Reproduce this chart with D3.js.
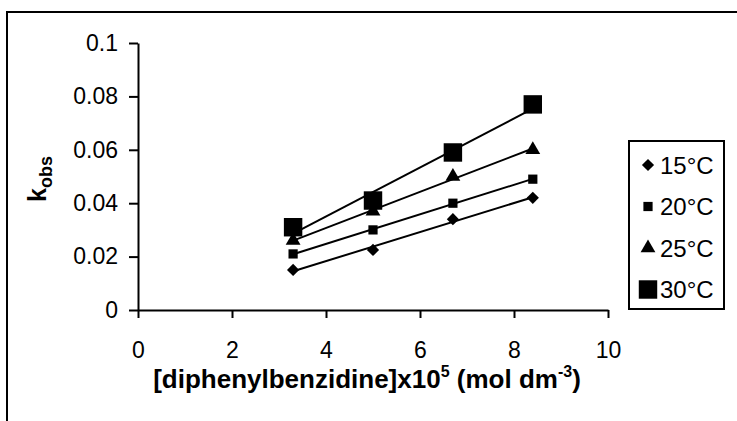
<!DOCTYPE html>
<html>
<head>
<meta charset="utf-8">
<script src="https://cdn.jsdelivr.net/npm/d3@7"></script>
<style>
  body { margin: 0; background: #fff; }
  text { font-family: "Liberation Sans", Arial, sans-serif; fill: #000; }
</style>
</head>
<body>
<svg width="737" height="421"></svg>
<script>
// data
var conc = [3.3, 5.0, 6.7, 8.4];
var temps = ["15°C", "20°C", "25°C", "30°C"];
var k15 = [0.015, 0.0225, 0.034, 0.042];
var k20 = [0.021, 0.030, 0.040, 0.049];
var k25 = [0.026, 0.037, 0.050, 0.060];
var k30 = [0.031, 0.041, 0.059, 0.077];
var xTicks = [0, 2, 4, 6, 8, 10];
var yTicks = [0, 0.02, 0.04, 0.06, 0.08, 0.1];

var series = [k15, k20, k25, k30].map(function (v, i) {
  return { name: temps[i], values: v };
});

var svg = d3.select("svg"),
    margin = {left: 138, right: 129, top: 43, bottom: 111},
    width = 737 - margin.left - margin.right,
    height = 421 - margin.top - margin.bottom;

// outer frame (cut at right and bottom)
svg.append("path")
    .attr("d", "M7,430V12H745")
    .attr("fill", "none")
    .attr("stroke", "#000")
    .attr("stroke-width", 2);

var g = svg.append("g").attr("transform", "translate(" + margin.left + "," + margin.top + ")");

var x = d3.scaleLinear().domain([0, 10]).range([0, width]),
    y = d3.scaleLinear().domain([0, 0.1]).range([height, 0]);

// symbols per series
var shapes = [
  {type: d3.symbolDiamond2, size: 95},
  {type: d3.symbolSquare, size: 85},
  {type: d3.symbolTriangle, size: 95},
  {type: d3.symbolSquare, size: 340}
];

function fit(xs, ys) {
  var mx = d3.mean(xs), my = d3.mean(ys);
  var sxy = d3.sum(xs, function (d, i) { return (d - mx) * (ys[i] - my); });
  var sxx = d3.sum(xs, function (d) { return (d - mx) * (d - mx); });
  var b = sxy / sxx;
  return function (t) { return my + b * (t - mx); };
}

// axes
var xAxis = g.append("g")
    .attr("transform", "translate(0," + height + ")")
    .call(d3.axisBottom(x).tickValues(xTicks).tickSize(8).tickSizeOuter(0).tickPadding(24));
var yAxis = g.append("g")
    .call(d3.axisLeft(y).tickValues(yTicks).tickSize(9).tickSizeOuter(0).tickPadding(11)
      .tickFormat(function (d) { return d === 0 ? "0" : d3.format("~g")(+d.toFixed(2)); }));

[xAxis, yAxis].forEach(function (a) {
  a.select(".domain").attr("stroke", "#000").attr("stroke-width", 2);
  a.selectAll(".tick line").attr("stroke", "#000").attr("stroke-width", 2);
  a.selectAll(".tick text").style("font-size", "23px").attr("font-family", null);
});

// trend lines
var lineGen = d3.line().x(function (d) { return x(d[0]); }).y(function (d) { return y(d[1]); });
series.forEach(function (s) {
  var f = fit(conc, s.values);
  var x0 = conc[0], x1 = conc[conc.length - 1];
  g.append("path")
      .attr("d", lineGen([[x0, f(x0)], [x1, f(x1)]]))
      .attr("fill", "none")
      .attr("stroke", "#000")
      .attr("stroke-width", 2);
});

// markers
series.forEach(function (s, i) {
  g.selectAll(".m" + i)
    .data(s.values)
    .enter().append("path")
      .attr("transform", function (d, j) { return "translate(" + x(conc[j]) + "," + y(d) + ")"; })
      .attr("d", d3.symbol().type(shapes[i].type).size(shapes[i].size))
      .attr("fill", "#000");
});

// legend
var leg = svg.append("g").attr("transform", "translate(629,141)");
leg.append("rect")
    .attr("width", 95).attr("height", 168)
    .attr("fill", "#fff").attr("stroke", "#000").attr("stroke-width", 2);
var item = leg.selectAll(".item")
    .data(series)
    .enter().append("g")
      .attr("transform", function (d, i) { return "translate(0," + (24 + i * 41.5) + ")"; });
item.append("path")
    .attr("transform", "translate(19,0)")
    .attr("d", function (d, i) { return d3.symbol().type(shapes[i].type).size(shapes[i].size)(); })
    .attr("fill", "#000");
item.append("text")
    .attr("x", 31)
    .attr("dy", "0.36em")
    .style("font-size", "24px")
    .text(function (d) { return d.name; });

// axis titles
var xt = svg.append("text")
    .attr("x", 367)
    .attr("y", 388)
    .attr("text-anchor", "middle")
    .style("font-size", "26px")
    .style("font-weight", "bold");
xt.append("tspan").text("[diphenylbenzidine]x10");
xt.append("tspan").attr("dy", -11).style("font-size", "16px").text("5");
xt.append("tspan").attr("dy", 11).text(" (mol dm");
xt.append("tspan").attr("dy", -11).style("font-size", "16px").text("-3");
xt.append("tspan").attr("dy", 11).text(")");

var yt = svg.append("text")
    .attr("transform", "translate(46,179) rotate(-90)")
    .attr("text-anchor", "middle")
    .style("font-size", "25px")
    .style("font-weight", "bold");
yt.append("tspan").text("k");
yt.append("tspan").attr("dy", 6).style("font-size", "18px").text("obs");
</script>
</body>
</html>
